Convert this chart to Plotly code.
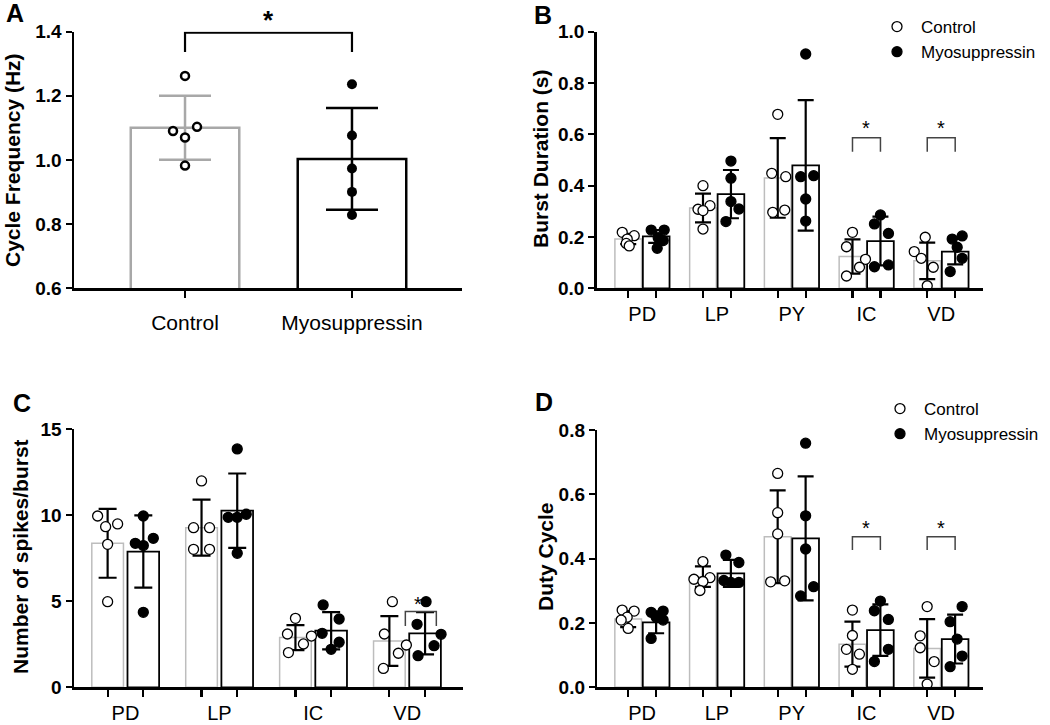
import plotly.graph_objects as go

FONT = "Liberation Sans"
W, H = 1050, 725

# ---------------- data ----------------
A_LABELS = ["Control", "Myosuppressin"]
A_MEAN = [1.100, 1.003]
A_SD = [0.100, 0.159]
A_CTRL_PTS = [1.262, 1.090, 1.103, 1.070, 0.982]
A_MYO_PTS = [1.236, 1.076, 0.973, 0.900, 0.828]

B_CATS = ["PD", "LP", "PY", "IC", "VD"]
B_CTRL_MEAN = [0.192, 0.313, 0.430, 0.124, 0.107]
B_CTRL_SD = [0.020, 0.056, 0.155, 0.067, 0.071]
B_MYO_MEAN = [0.202, 0.367, 0.479, 0.184, 0.143]
B_MYO_SD = [0.025, 0.094, 0.254, 0.095, 0.050]
B_CTRL_PTS = [[0.218, 0.205, 0.192, 0.175, 0.165],
              [0.400, 0.322, 0.308, 0.303, 0.231],
              [0.678, 0.448, 0.435, 0.305, 0.296],
              [0.218, 0.162, 0.113, 0.082, 0.048],
              [0.199, 0.143, 0.117, 0.082, 0.010]]
B_MYO_PTS = [[0.227, 0.227, 0.197, 0.186, 0.156],
             [0.496, 0.429, 0.338, 0.309, 0.260],
             [0.913, 0.435, 0.439, 0.348, 0.262],
             [0.286, 0.251, 0.214, 0.091, 0.084],
             [0.204, 0.192, 0.160, 0.117, 0.065]]

C_CATS = ["PD", "LP", "IC", "VD"]
C_CTRL_MEAN = [8.37, 9.28, 2.89, 2.69]
C_CTRL_SD = [2.00, 1.63, 0.73, 1.45]
C_MYO_MEAN = [7.89, 10.27, 3.29, 3.14]
C_MYO_SD = [2.10, 2.16, 1.08, 1.23]
C_CTRL_PTS = [[9.96, 9.50, 9.34, 8.31, 4.98],
              [12.0, 9.28, 9.28, 8.02, 8.02],
              [4.01, 3.10, 2.98, 2.52, 2.02],
              [4.98, 3.10, 2.46, 1.98, 1.10]]
C_MYO_PTS = [[9.96, 8.66, 8.37, 8.24, 4.36],
             [13.86, 9.88, 10.06, 9.88, 7.79],
             [4.79, 3.97, 3.14, 2.62, 2.21],
             [4.98, 3.66, 3.08, 2.42, 1.84]]

D_CATS = ["PD", "LP", "PY", "IC", "VD"]
D_CTRL_MEAN = [0.212, 0.344, 0.468, 0.134, 0.121]
D_CTRL_SD = [0.025, 0.032, 0.144, 0.070, 0.091]
D_MYO_MEAN = [0.202, 0.354, 0.463, 0.178, 0.150]
D_MYO_SD = [0.034, 0.042, 0.193, 0.080, 0.076]
D_CTRL_PTS = [[0.240, 0.237, 0.218, 0.209, 0.183],
              [0.391, 0.336, 0.341, 0.329, 0.301],
              [0.665, 0.543, 0.477, 0.328, 0.331],
              [0.240, 0.161, 0.118, 0.103, 0.056],
              [0.251, 0.160, 0.123, 0.080, 0.010]]
D_MYO_PTS = [[0.233, 0.237, 0.218, 0.209, 0.152],
             [0.411, 0.388, 0.332, 0.326, 0.326],
             [0.759, 0.533, 0.430, 0.313, 0.284],
             [0.268, 0.238, 0.211, 0.118, 0.080],
             [0.251, 0.204, 0.150, 0.097, 0.064]]

# ---------------- point jitter (pixels, styling only) ----------------
A_CTRL_JIT = [0, -12, 12, 0, 0]
A_MYO_JIT = [0, 0, 0, 0, 0]
B_CTRL_JIT = [[-6, 6, -1, -2, 1], [0, 7, -5, 0, 0], [0, -6, 8, 7, -5],
              [0, -6, 13, 7, -6], [-2, -13, -6, 6, 0]]
B_MYO_JIT = [[-5, 8, 2, 7, 1], [0, 0, 0, 8, -5], [0, -5, 8, 0, 0],
             [0, -6, 8, 8, -6], [7, -3, 2, 7, -5]]
C_CTRL_JIT = [[-10, 10, -2, 0, 0], [0, -8, 8, -8, 8], [0, -8, 16, 8, -7],
              [3, -5, 17, 9, -6]]
C_MYO_JIT = [[0, 10, -8, 0, 0], [0, -9, 9, 0, 0], [-8, 8, -9, 8, 0],
             [1, -8, 16, 9, -7]]
D_CTRL_JIT = [[-6, 6, -1, -7, 0], [0, -9, 7, 0, -3], [0, 0, 0, -7, 7],
              [0, 0, -6, 7, 0], [0, -7, -7, 7, 0]]
D_MYO_JIT = [[-5, 7, 0, 7, -5], [-5, 8, -7, 0, 8], [0, 0, 0, 8, -5],
             [0, -6, 8, 8, -6], [7, -5, 2, 7, -5]]

GRAY = "#a8a8a8"
LGRAY = "#bdbdbd"


def px_dom(a, b, total, flip=False):
    if flip:
        return [1 - b / total, 1 - a / total]
    return [a / total, b / total]


fig = go.Figure()

# axis geometry (pixel boxes)
AX = {
    "A": dict(x=(74, 462), y=(31.7, 288.0), xr=[-0.665, 1.659], yr=[0.6, 1.4]),
    "B": dict(x=(596.7, 983), y=(31.7, 288.3), xr=[-0.609, 4.559], yr=[0, 1.0]),
    "C": dict(x=(74, 463), y=(429.3, 687.3), xr=[-0.548, 3.594], yr=[0, 15]),
    "D": dict(x=(597.3, 983), y=(430.0, 687.3), xr=[-0.60, 4.56], yr=[0, 0.8]),
}
IDS = {"A": ("x", "y"), "B": ("x2", "y2"), "C": ("x3", "y3"), "D": ("x4", "y4")}


def unit_per_px(key):
    g = AX[key]
    return (g["xr"][1] - g["xr"][0]) / (g["x"][1] - g["x"][0])


# ---------------- Panel A ----------------
xa, ya = IDS["A"]
fig.add_trace(go.Bar(x=[0], y=[A_MEAN[0]], width=0.65, xaxis=xa, yaxis=ya,
                     marker=dict(color="white", line=dict(color=GRAY, width=2.5)),
                     error_y=dict(type="data", array=[A_SD[0]], color=GRAY, thickness=2.5, width=26),
                     showlegend=False))
fig.add_trace(go.Bar(x=[1], y=[A_MEAN[1]], width=0.65, xaxis=xa, yaxis=ya,
                     marker=dict(color="white", line=dict(color="black", width=2.5)),
                     error_y=dict(type="data", array=[A_SD[1]], color="black", thickness=2.5, width=26),
                     showlegend=False))
u = unit_per_px("A")
fig.add_trace(go.Scatter(x=[0 + j * u for j in A_CTRL_JIT], y=A_CTRL_PTS, mode="markers",
                         xaxis=xa, yaxis=ya, cliponaxis=False, showlegend=False,
                         marker=dict(symbol="circle", size=8, color="white",
                                     line=dict(color="black", width=2.5))))
fig.add_trace(go.Scatter(x=[1 + j * u for j in A_MYO_JIT], y=A_MYO_PTS, mode="markers",
                         xaxis=xa, yaxis=ya, cliponaxis=False, showlegend=False,
                         marker=dict(symbol="circle", size=10, color="black",
                                     line=dict(color="black", width=0))))


def grouped_panel(key, cats, cm, cs, mm, ms, cp, mp, cj, mj, off, bw, cap, msize, legend=None):
    xa, ya = IDS[key]
    n = len(cats)
    u = unit_per_px(key)
    fig.add_trace(go.Bar(x=[i - off for i in range(n)], y=cm, width=bw, xaxis=xa, yaxis=ya,
                         marker=dict(color="white", line=dict(color=LGRAY, width=1.5)),
                         error_y=dict(type="data", array=cs, color="black", thickness=2.2, width=cap),
                         showlegend=False))
    fig.add_trace(go.Bar(x=[i + off for i in range(n)], y=mm, width=bw, xaxis=xa, yaxis=ya,
                         marker=dict(color="white", line=dict(color="black", width=1.8)),
                         error_y=dict(type="data", array=ms, color="black", thickness=2.2, width=cap),
                         showlegend=False))
    xs, ys = [], []
    for i in range(n):
        for v, j in zip(cp[i], cj[i]):
            xs.append(i - off + j * u)
            ys.append(v)
    fig.add_trace(go.Scatter(x=xs, y=ys, mode="markers", xaxis=xa, yaxis=ya, cliponaxis=False,
                             name="Control", showlegend=legend is not None,
                             legend=legend or "legend",
                             marker=dict(symbol="circle", size=msize, color="white",
                                         line=dict(color="black", width=1.3))))
    xs, ys = [], []
    for i in range(n):
        for v, j in zip(mp[i], mj[i]):
            xs.append(i + off + j * u)
            ys.append(v)
    fig.add_trace(go.Scatter(x=xs, y=ys, mode="markers", xaxis=xa, yaxis=ya, cliponaxis=False,
                             name="Myosuppressin", showlegend=legend is not None,
                             legend=legend or "legend",
                             marker=dict(symbol="circle", size=msize, color="black",
                                         line=dict(color="black", width=1.3))))


grouped_panel("B", B_CATS, B_CTRL_MEAN, B_CTRL_SD, B_MYO_MEAN, B_MYO_SD, B_CTRL_PTS, B_MYO_PTS,
              B_CTRL_JIT, B_MYO_JIT, 0.187, 0.357, 8, 10, legend="legend")
grouped_panel("C", C_CATS, C_CTRL_MEAN, C_CTRL_SD, C_MYO_MEAN, C_MYO_SD, C_CTRL_PTS, C_MYO_PTS,
              C_CTRL_JIT, C_MYO_JIT, 0.19, 0.337, 9, 10)
grouped_panel("D", D_CATS, D_CTRL_MEAN, D_CTRL_SD, D_MYO_MEAN, D_MYO_SD, D_CTRL_PTS, D_MYO_PTS,
              D_CTRL_JIT, D_MYO_JIT, 0.187, 0.357, 8, 10, legend="legend2")

# ---------------- axes ----------------
tickfont = dict(family=FONT, size=19, color="black", weight="bold")
common_y = dict(showline=True, linewidth=2.5, linecolor="black", ticks="outside", ticklen=6,
                tickwidth=2.2, tickcolor="black", showgrid=False, zeroline=False,
                tickfont=tickfont, fixedrange=True, automargin=False)
common_x = dict(showline=True, linewidth=2.5, linecolor="black", showgrid=False, zeroline=False,
                fixedrange=True, automargin=False)

layout_axes = {}
# A
g = AX["A"]
layout_axes["xaxis"] = dict(common_x, domain=px_dom(*g["x"], W), range=g["xr"], anchor="y",
                            tickmode="array", tickvals=[0, 1], ticktext=A_LABELS,
                            ticks="outside", ticklen=7, tickwidth=2.2, tickcolor="black",
                            ticklabelstandoff=7,
                            tickfont=dict(family=FONT, size=21, color="black"))
layout_axes["yaxis"] = dict(common_y, domain=px_dom(*g["y"], H, flip=True), range=g["yr"],
                            anchor="x", tickmode="array", tickvals=[0.6, 0.8, 1.0, 1.2, 1.4],
                            tickformat=".1f")


def grouped_axes(key, n, cats, off, yticks, yfmt):
    g = AX[key]
    xid, yid = IDS[key]
    xn = "xaxis" + xid[1:]
    yn = "yaxis" + yid[1:]
    bar_centers = []
    for i in range(n):
        bar_centers += [i - off, i + off]
    layout_axes[xn] = dict(common_x, domain=px_dom(*g["x"], W), range=g["xr"], anchor=yid,
                           tickmode="array", tickvals=list(range(n)), ticktext=cats,
                           ticks="", ticklabelstandoff=6,
                           minor=dict(tickmode="array", tickvals=bar_centers, ticks="outside",
                                      ticklen=7, tickwidth=2.2, tickcolor="black"),
                           tickfont=dict(family=FONT, size=20, color="black"))
    layout_axes[yn] = dict(common_y, domain=px_dom(*g["y"], H, flip=True), range=g["yr"],
                           anchor=xid, tickmode="array", tickvals=yticks, tickformat=yfmt)


grouped_axes("B", 5, B_CATS, 0.187, [0, 0.2, 0.4, 0.6, 0.8, 1.0], ".1f")
grouped_axes("C", 4, C_CATS, 0.19, [0, 5, 10, 15], "d")
grouped_axes("D", 5, D_CATS, 0.187, [0, 0.2, 0.4, 0.6, 0.8], ".1f")

# ---------------- significance brackets ----------------
BR = dict(color="#444444", width=1.5)
shapes = [
    dict(type="path", xref="x", yref="y", line=dict(color="black", width=2.2),
         path="M 0,1.337 L 0,1.397 L 1,1.397 L 1,1.337"),
]
for key, cat_idx, lo, hi, a, b in [("B", 3, 0.532, 0.587, -0.187, 0.187),
                                   ("B", 4, 0.532, 0.587, -0.187, 0.187),
                                   ("D", 3, 0.427, 0.468, -0.187, 0.187),
                                   ("D", 4, 0.427, 0.468, -0.187, 0.187),
                                   ("C", 3, 3.56, 4.40, -0.02, 0.31)]:
    xid, yid = IDS[key]
    x0, x1 = cat_idx + a, cat_idx + b
    shapes.append(dict(type="path", xref=xid, yref=yid, line=BR,
                       path=f"M {x0},{lo} L {x0},{hi} L {x1},{hi} L {x1},{lo}"))

# ---------------- annotations ----------------
ann = []


def txt(text, x, y, size, bold=True, angle=0, xref="paper", yref="paper", xanchor="center",
        yanchor="middle"):
    ann.append(dict(text=text, x=x, y=y, xref=xref, yref=yref, showarrow=False,
                    textangle=angle, xanchor=xanchor, yanchor=yanchor,
                    font=dict(family=FONT, size=size, color="black",
                              weight="bold" if bold else "normal")))


# panel letters
txt("A", 15 / W, 1 - 13 / H, 25)
txt("B", 543 / W, 1 - 15 / H, 25)
txt("C", 22 / W, 1 - 403 / H, 25)
txt("D", 544 / W, 1 - 402 / H, 25)
# y titles
txt("Cycle Frequency (Hz)", 12 / W, 1 - 160 / H, 21, angle=-90)
txt("Burst Duration (s)", 541 / W, 1 - 159 / H, 21, angle=-90)
txt("Number of spikes/burst", 20 / W, 1 - 557 / H, 21, angle=-90)
txt("Duty Cycle", 545 / W, 1 - 557 / H, 21, angle=-90)
# asterisks
txt("*", 0.5, 1 - 20 / H, 26, xref="x", yref="paper")
for key, ci, yv in [("B", 3, 0.625), ("B", 4, 0.625), ("D", 3, 0.495), ("D", 4, 0.495)]:
    xid, yid = IDS[key]
    txt("*", ci, yv, 20, bold=False, xref=xid, yref=yid)
txt("*", 3.115, 4.87, 20, bold=False, xref="x3", yref="y3")

legend_style = dict(font=dict(family=FONT, size=17, color="black"), bgcolor="rgba(0,0,0,0)",
                    borderwidth=0, xanchor="left", yanchor="top", itemwidth=38,
                    tracegroupgap=0, itemclick=False, itemdoubleclick=False)

fig.update_layout(
    template="none",
    width=W, height=H, autosize=False, margin=dict(l=0, r=0, t=0, b=0, pad=0),
    paper_bgcolor="white", plot_bgcolor="white",
    barmode="overlay", bargap=0,
    font=dict(family=FONT, color="black"),
    shapes=shapes, annotations=ann,
    legend=dict(legend_style, x=873 / W, y=1 - 9 / H),
    legend2=dict(legend_style, x=876 / W, y=1 - 391 / H),
    **layout_axes,
)

fig.write_html("out.html", config={"displayModeBar": False, "staticPlot": True},
               post_script="document.body.style.margin='0';")
